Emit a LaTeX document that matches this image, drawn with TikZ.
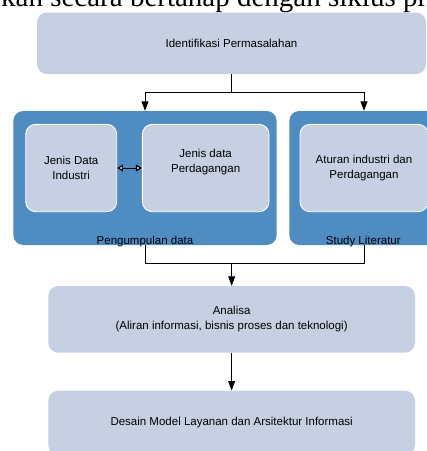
\documentclass[tikz,border=0pt]{standalone}
\usepackage{fontspec}
\setmainfont{Liberation Sans}
\newfontfamily\headfont{Liberation Serif}
\usetikzlibrary{arrows.meta}
\definecolor{paleblue}{RGB}{198,208,226}
\definecolor{groupblue}{RGB}{79,140,194}
\begin{document}
\begin{tikzpicture}[x=1pt,y=-1pt,
  every node/.style={font=\fontsize{11.5}{15}\selectfont, align=center, inner sep=0pt},
  stagebox/.style={fill=paleblue, rounded corners=10pt, draw=none},
  groupbox/.style={fill=groupblue, rounded corners=10pt, draw=none},
  itembox/.style={fill=paleblue, draw=white, line width=0.9pt, rounded corners=10pt},
  flow/.style={line width=0.9pt, -{Triangle[length=9.5pt,width=7pt]}},
  link/.style={line width=0.9pt},
  swap/.style={line width=1pt, {Triangle[open,fill=white,length=6pt,width=7pt,line width=1.2pt]}-{Triangle[open,fill=white,length=6pt,width=7pt,line width=1.2pt]}}]
\useasboundingbox (0,0) rectangle (427,451);

% running text of the page above the figure
\node[anchor=base west, font=\headfont\fontsize{29}{30}\selectfont] (runtext) at (1,6) {kan secara bertahap dengan siklus pr};

% first stage
\node[stagebox, minimum width=389pt, minimum height=61.5pt] (ident) at (231.5,43.25) {Identifikasi Permasalahan};

% data collection group
\node[groupbox, minimum width=263.4pt, minimum height=134pt] (collect) at (145,178) {};
\node[anchor=base] (collectlbl) at (145,244) {Pengumpulan data};
\node[itembox, minimum width=91pt, minimum height=87.4pt] (industri) at (71.2,168) {Jenis Data\\Industri};
\node[itembox, minimum width=126.7pt, minimum height=87.4pt] (dagang) at (205.65,168) {};
\node (dagangtxt) at (205.65,162) {Jenis data\\Perdagangan};

% literature group
\node[groupbox, minimum width=149.4pt, minimum height=134pt] (study) at (364,178) {};
\node[anchor=base] (studylbl) at (363.3,244) {Study Literatur};
\node[itembox, minimum width=128pt, minimum height=87.4pt] (aturan) at (364,168) {Aturan industri dan\\Perdagangan};

% later stages
\node[stagebox, minimum width=366.7pt, minimum height=66.7pt] (analisa) at (231.65,319.35) {Analisa\\(Aliran informasi, bisnis proses dan teknologi)};
\node[stagebox, minimum width=366.7pt, minimum height=64.3pt] (desain) at (231.65,422.85) {Desain Model Layanan dan Arsitektur Informasi};

% connectors
\coordinate (split) at (231.5,92.7);
\coordinate (join) at (231.65,263.3);
\draw[link] (ident.south) -- (split);
\draw[flow] (split) -| (collect.north);
\draw[flow] (split) -| (study.north);
\draw[swap] (industri.east) -- (dagang.west);
\draw[link] (collect.south) |- (join);
\draw[link] (study.south) |- (join);
\draw[flow] (join) -- (analisa.north);
\draw[flow] (analisa.south) -- (desain.north);
\end{tikzpicture}
\end{document}
